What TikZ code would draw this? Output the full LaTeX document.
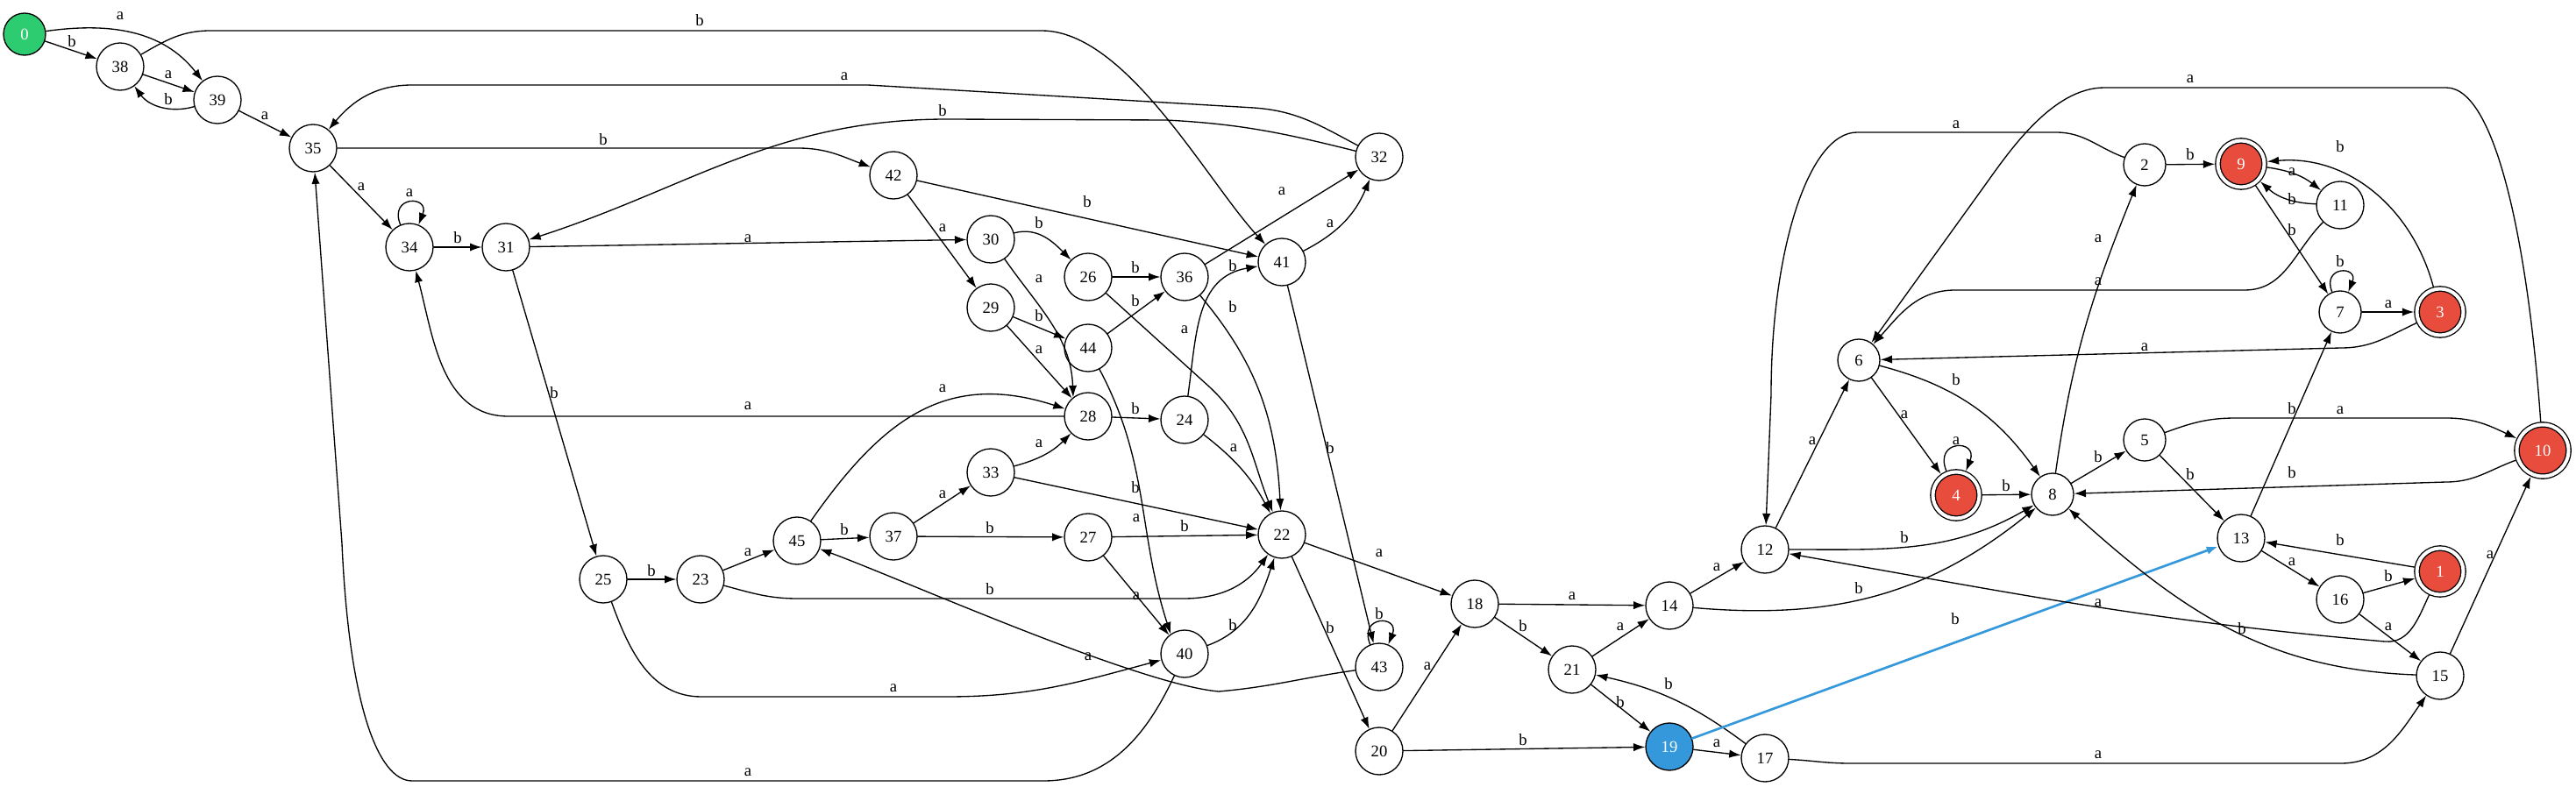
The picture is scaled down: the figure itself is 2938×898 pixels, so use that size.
\documentclass[tikz,border=0pt]{standalone}
\usepackage{fontspec}
\setmainfont{Liberation Serif}
\usetikzlibrary{arrows.meta}
\definecolor{startgreen}{HTML}{2ECC71}
\definecolor{finalred}{HTML}{E74C3C}
\definecolor{nowblue}{HTML}{3498DB}
\begin{document}
\begin{tikzpicture}[x=0.75pt,y=0.75pt,line width=1pt,line cap=round,
  >={Latex[length=10pt,width=7pt]},font=\fontsize{14}{16}\selectfont,
  st/.style={circle,draw,minimum size=36pt,inner sep=0pt},
  st2/.style={st,minimum size=40.5pt},
  acc/.style={st,fill=finalred,text=white,double,double distance=3pt,minimum size=39.75pt,outer sep=2.5pt},
  lbl/.style={inner sep=0pt},
  selfloop/.style={out=112,in=68,looseness=4.5}]
  \useasboundingbox (0,0) rectangle (2938,-898);
  \node[st,fill=startgreen,text=white] (n0) at (28,-39) {0};
  \node[st2] (n38) at (137,-76) {38};
  \node[st2] (n39) at (248,-114) {39};
  \node[st2] (n35) at (357,-169) {35};
  \node[st2] (n34) at (467,-282) {34};
  \node[st2] (n31) at (577,-282) {31};
  \node[st2] (n25) at (688,-661) {25};
  \node[st2] (n23) at (799,-661) {23};
  \node[st2] (n45) at (909,-617) {45};
  \node[st2] (n42) at (1019,-200) {42};
  \node[st2] (n37) at (1019,-612) {37};
  \node[st2] (n30) at (1130,-273) {30};
  \node[st2] (n29) at (1130,-351) {29};
  \node[st2] (n33) at (1130,-539) {33};
  \node[st2] (n26) at (1241,-316) {26};
  \node[st2] (n44) at (1241,-397) {44};
  \node[st2] (n28) at (1241,-475) {28};
  \node[st2] (n27) at (1241,-613) {27};
  \node[st2] (n36) at (1351,-316) {36};
  \node[st2] (n24) at (1351,-479) {24};
  \node[st2] (n40) at (1351,-746) {40};
  \node[st2] (n41) at (1462,-299) {41};
  \node[st2] (n22) at (1462,-610) {22};
  \node[st2] (n32) at (1573,-179) {32};
  \node[st2] (n43) at (1573,-761) {43};
  \node[st2] (n20) at (1573,-857) {20};
  \node[st2] (n18) at (1682,-689) {18};
  \node[st2] (n21) at (1793,-764) {21};
  \node[st2] (n14) at (1904,-691) {14};
  \node[st2,fill=nowblue,text=white] (n19) at (1904,-852) {19};
  \node[st2] (n12) at (2013,-627) {12};
  \node[st2] (n17) at (2013,-865) {17};
  \node[st] (n6) at (2120,-411) {6};
  \node[acc] (n4) at (2231,-565) {4};
  \node[st] (n8) at (2341,-564) {8};
  \node[st] (n2) at (2446,-188) {2};
  \node[st] (n5) at (2446,-502) {5};
  \node[acc] (n9) at (2556,-187) {9};
  \node[st2] (n13) at (2556,-614) {13};
  \node[st2] (n11) at (2669,-234) {11};
  \node[st] (n7) at (2669,-356) {7};
  \node[st2] (n16) at (2669,-684) {16};
  \node[acc] (n3) at (2783,-356) {3};
  \node[acc] (n1) at (2783,-652) {1};
  \node[st2] (n15) at (2783,-771) {15};
  \node[acc,minimum size=44.25pt] (n10) at (2900,-514) {10};

  \draw[->] (n0) -- (n38) node[lbl] at (82,-47) {b};
  \draw[->] (n0) to[out=8,in=128] (n39) node[lbl] at (137,-18) {a};
  \draw[->] (n38) -- (n39) node[lbl] at (192,-85) {a};
  \draw[->] (n39) to[bend left=35] (n38) node[lbl] at (192,-113) {b};
  \draw[->] (n39) -- (n35) node[lbl] at (302,-132) {a};
  \draw[->] (n38) to[out=30,in=180] (240,-35) -- (1188,-35) to[out=0,in=133,looseness=0.7] (n41) node[lbl] at (798,-23) {b};
  \draw[->] (n32) to[out=152,in=-4] (1430,-123) -- (990,-97) -- (470,-97) to[out=180,in=50] (n35) node[lbl] at (963,-87) {a};
  \draw[->] (n35) -- (910,-169) to[out=0,in=160] (n42) node[lbl] at (688,-159) {b};
  \draw[->] (n32) to[out=166,in=-3] (1330,-137) -- (1080,-136) to[out=180,in=18] (n31) node[lbl] at (1075,-126) {b};
  \draw[->] (n35) -- (n34) node[lbl] at (412,-213) {a};
  \draw[->] (n34) to[selfloop] (n34) node[lbl] at (467,-220) {a};
  \draw[->] (n34) -- (n31) node[lbl] at (522,-271) {b};
  \draw[->] (n31) -- (n30) node[lbl] at (853,-272) {a};
  \draw[->] (n31) -- (n25) node[lbl] at (632,-448) {b};
  \draw[->] (n28) -- (580,-475) to[out=180,in=-75] (n34) node[lbl] at (853,-463) {a};
  \draw[->] (n40) to[out=-115,in=0] (1190,-891) -- (470,-891) .. controls (430,-891) and (398,-800) .. (390,-620) -- (n35) node[lbl] at (853,-881) {a};
  \draw[->] (n25) -- (n23) node[lbl] at (743,-651) {b};
  \draw[->] (n23) -- (n45) node[lbl] at (853,-630) {a};
  \draw[->] (n45) -- (n37) node[lbl] at (963,-604) {b};
  \draw[->] (n43) to[out=188,in=5] (1390,-789) to[out=175,in=-20,looseness=0.5] (n45) node[lbl] at (1241,-749) {a};
  \draw[->] (n25) to[out=-70,in=180] (800,-795) -- (1080,-795) to[out=0,in=195] (n40) node[lbl] at (1019,-785) {a};
  \draw[->] (n45) to[out=55,in=162,looseness=1.15] (n28) node[lbl] at (1075,-443) {a};
  \draw[->] (n37) -- (n33) node[lbl] at (1075,-564) {a};
  \draw[->] (n37) -- (n27) node[lbl] at (1129,-602) {b};
  \draw[->] (n33) to[bend right=15] (n28) node[lbl] at (1185,-506) {a};
  \draw[->] (n33) -- (n22) node[lbl] at (1295,-556) {b};
  \draw[->] (n27) -- (n22) node[lbl] at (1351,-600) {b};
  \draw[->] (n27) -- (n40) node[lbl] at (1296,-680) {a};
  \draw[->] (n23) to[out=-15,in=180] (910,-683) -- (1350,-683) to[out=0,in=-125] (n22) node[lbl] at (1129,-672) {b};
  \draw[->] (n40) to[out=20,in=-108] (n22) node[lbl] at (1406,-713) {b};
  \draw[->] (n30) to[out=-55,in=92] (n28.128) node[lbl] at (1185,-318) {a};
  \draw[->] (n29) -- (n44) node[lbl] at (1185,-360) {b};
  \draw[->] (n29) -- (n28) node[lbl] at (1185,-399) {a};
  \draw[->] (n30) to[out=15,in=135] (n26) node[lbl] at (1185,-254) {b};
  \draw[->] (n42) -- (n29) node[lbl] at (1075,-260) {a};
  \draw[->] (n42) -- (n41) node[lbl] at (1240,-230) {b};
  \draw[->] (n26) -- (n36) node[lbl] at (1295,-305) {b};
  \draw[->] (n44) -- (n36) node[lbl] at (1295,-343) {b};
  \draw[->] (n36) -- (n32) node[lbl] at (1462,-218) {a};
  \draw[->] (n41) to[bend right=20] (n32) node[lbl] at (1517,-255) {a};
  \draw[->] (n24) to[out=82,in=190,looseness=1.1] (n41) node[lbl] at (1406,-303) {b};
  \draw[->] (n36) to[out=-50,in=93] (n22) node[lbl] at (1406,-350) {b};
  \draw[->] (n26) -- (1380,-442) to[out=-43,in=112] (n22) node[lbl] at (1351,-376) {a};
  \draw[->] (n24) to[bend left=12] (n22) node[lbl] at (1407,-511) {a};
  \draw[->] (n28) -- (n24) node[lbl] at (1295,-466) {b};
  \draw[->] (n44) to[out=-62,in=108] (n40.125) node[lbl] at (1296,-591) {a};
  \draw[->] (n41) -- (n43) node[lbl] at (1517,-511) {b};
  \draw[->] (n43) to[selfloop] (n43) node[lbl] at (1573,-700) {b};
  \draw[->] (n22) -- (n18) node[lbl] at (1573,-631) {a};
  \draw[->] (n22) -- (n20) node[lbl] at (1517,-716) {b};
  \draw[->] (n20) -- (n18) node[lbl] at (1628,-760) {a};
  \draw[->] (n20) -- (n19) node[lbl] at (1737,-844) {b};
  \draw[->] (n18) -- (n14) node[lbl] at (1793,-680) {a};
  \draw[->] (n18) -- (n21) node[lbl] at (1737,-714) {b};
  \draw[->] (n21) -- (n14) node[lbl] at (1848,-715) {a};
  \draw[->] (n21) -- (n19) node[lbl] at (1848,-801) {b};
  \draw[->] (n17) to[bend right=12] (n21) node[lbl] at (1903,-780) {b};
  \draw[->] (n19) -- (n17) node[lbl] at (1958,-848) {a};
  \draw[->,nowblue,line width=2pt] (n19) -- (n13) node[lbl,text=black] at (2230,-706) {b};
  \draw[->] (n14) -- (n12) node[lbl] at (1958,-647) {a};
  \draw[->] (n14) to[out=-5,in=-141] (n8) node[lbl] at (2120,-671) {b};
  \draw[->] (n12) to[out=0,in=-150] (n8) node[lbl] at (2172,-613) {b};
  \draw[->] (n12) -- (n6) node[lbl] at (2067,-503) {a};
  \draw[->] (n2) to[out=160,in=0] (2345,-151) -- (2118,-151) .. controls (2063,-151) and (2020,-285) .. (2020,-450) -- (n12) node[lbl] at (2231,-142) {a};
  \draw[->] (n10) .. controls (2885,-300) and (2850,-100) .. (2790,-100) -- (2400,-100) .. controls (2340,-100) and (2290,-175) .. (2262,-214) -- (n6) node[lbl] at (2498,-90) {a};
  \draw[->] (n11) to[out=-135,in=0] (2560,-331) -- (2230,-331) to[out=180,in=48] (n6) node[lbl] at (2393,-321) {a};
  \draw[->] (n3) to[out=-155,in=0] (2670,-397) -- (n6) node[lbl] at (2446,-396) {a};
  \draw[->] (n8) to[out=82,in=-112] (n2) node[lbl] at (2393,-272) {a};
  \draw[->] (n6) -- (n4) node[lbl] at (2172,-473) {a};
  \draw[->] (n6) to[bend left=20] (n8) node[lbl] at (2231,-433) {b};
  \draw[->] (n4) to[selfloop] (n4) node[lbl] at (2231,-503) {a};
  \draw[->] (n4) -- (n8) node[lbl] at (2288,-554) {b};
  \draw[->] (n8) -- (n5) node[lbl] at (2393,-521) {b};
  \draw[->] (n10) to[out=-160,in=0] (2790,-550) -- (n8) node[lbl] at (2614,-539) {b};
  \draw[->] (n15) to[out=178,in=-42] (n8) node[lbl] at (2557,-717) {b};
  \draw[->] (n1) to[out=-115,in=-5] (2720,-732) to[out=175,in=-10] (n12) node[lbl] at (2393,-688) {a};
  \draw[->] (n5) to[out=20,in=180] (2550,-477) -- (2790,-477) to[out=0,in=155] (n10) node[lbl] at (2669,-468) {a};
  \draw[->] (n5) -- (n13) node[lbl] at (2498,-541) {b};
  \draw[->] (n13) -- (n7) node[lbl] at (2614,-466) {b};
  \draw[->] (n13) -- (n16) node[lbl] at (2614,-641) {a};
  \draw[->] (n1) -- (n13) node[lbl] at (2669,-616) {b};
  \draw[->] (n16) -- (n1) node[lbl] at (2724,-657) {b};
  \draw[->] (n16) -- (n15) node[lbl] at (2724,-715) {a};
  \draw[->] (n15) -- (n10) node[lbl] at (2840,-633) {a};
  \draw[->] (n17) to[out=-3,in=180] (2110,-871) -- (2670,-871) to[out=0,in=-125] (n15) node[lbl] at (2393,-861) {a};
  \draw[->] (n2) -- (n9) node[lbl] at (2498,-176) {b};
  \draw[->] (n9) to[bend left=15] (n11) node[lbl] at (2614,-196) {a};
  \draw[->] (n11) to[bend left=20] (n9) node[lbl] at (2614,-227) {b};
  \draw[->] (n9) -- (n7) node[lbl] at (2614,-262) {b};
  \draw[->] (n7) to[selfloop] (n7) node[lbl] at (2669,-298) {b};
  \draw[->] (n7) -- (n3) node[lbl] at (2724,-347) {a};
  \draw[->] (n3) to[out=105,in=5] (n9) node[lbl] at (2669,-167) {b};
\end{tikzpicture}
\end{document}
